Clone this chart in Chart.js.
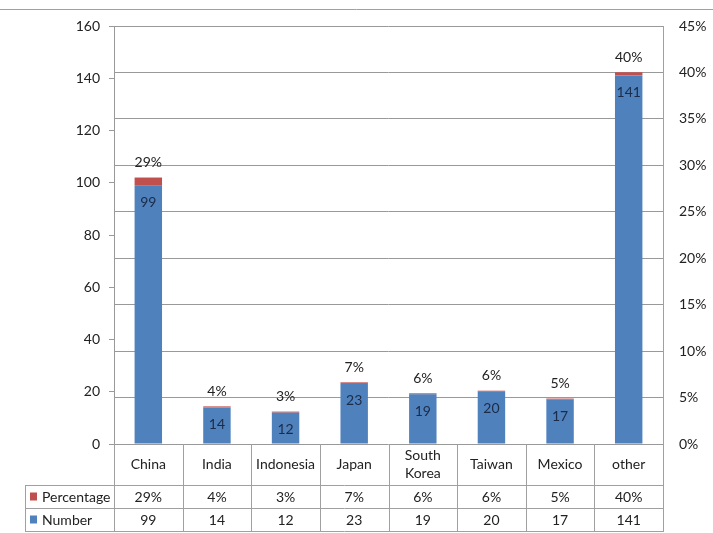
<!DOCTYPE html>
<html>
<head>
<meta charset="utf-8">
<script src="https://cdn.jsdelivr.net/npm/chart.js@4/dist/chart.umd.min.js"></script>
<style>
html,body{margin:0;padding:0;background:#fff;}
#wrap{width:713px;height:533px;position:relative;}
</style>
</head>
<body>
<div id="wrap"><canvas id="chart" width="713" height="533"></canvas></div>
<script>
let categories = ['China','India','Indonesia','Japan','South Korea','Taiwan','Mexico','other'];
let numbers = [99,14,12,23,19,20,17,141];
let percentages = [29,4,3,7,6,6,5,40];
// height of the red cap as it shows on each bar, in left axis units
let percentBar = [3,0.4,0.4,0.6,0.4,0.4,0.4,1.3];
let leftTicks = [0,20,40,60,80,100,120,140,160];
let rightTicks = [0,5,10,15,20,25,30,35,40,45];

let blue = '#4f81bd';
let red = '#c0504d';
let fontName = 'Lato, "Open Sans", sans-serif';
let fontSize = 14;
let lineColor = '#a0a0a0';

let valueLabels = {
	id:'valueLabels',
	afterDatasetsDraw:function(chart){
		let ctx = chart.ctx;
		let x = chart.scales.x;
		let y = chart.scales.y;
		ctx.save();
		ctx.font = fontSize + 'px ' + fontName;
		ctx.textAlign = 'center';
		ctx.textBaseline = 'middle';
		for(let i = 0; i < categories.length; i++){
			let cx = x.getPixelForValue(i);
			let topNum = y.getPixelForValue(numbers[i]);
			let topAll = y.getPixelForValue(numbers[i] + percentBar[i]);
			ctx.fillStyle = '#1b2b48';
			ctx.fillText(numbers[i], cx, topNum + 17);
			ctx.fillStyle = '#222';
			ctx.fillText(percentages[i] + '%', cx, topAll - 15);
		}
		ctx.restore();
	}
};

let dataTable = {
	id:'dataTable',
	afterDraw:function(chart){
		let ctx = chart.ctx;
		let area = chart.chartArea;
		let x = chart.scales.x;
		let n = categories.length;
		let cellW = (area.right - area.left) / n;
		let top = area.bottom;
		let row1 = top + 41;
		let row2 = row1 + 23;
		let row3 = row2 + 23;
		let tableLeft = 25;

		ctx.save();
		ctx.strokeStyle = lineColor;
		ctx.lineWidth = 1;
		ctx.beginPath();
		ctx.moveTo(0, 9.5);
		ctx.lineTo(713, 9.5);
		ctx.stroke();

		ctx.beginPath();
		for(let i = 0; i <= n; i++){
			let lx = Math.round(area.left + i * cellW) + 0.5;
			ctx.moveTo(lx, i === n ? area.top : top);
			ctx.lineTo(lx, row3);
		}
		ctx.moveTo(tableLeft + 0.5, row1);
		ctx.lineTo(tableLeft + 0.5, row3);
		[row1, row2, row3].forEach(function(ry){
			ctx.moveTo(tableLeft, ry + 0.5);
			ctx.lineTo(area.right + 1, ry + 0.5);
		});
		ctx.stroke();

		ctx.font = fontSize + 'px ' + fontName;
		ctx.textAlign = 'center';
		ctx.textBaseline = 'middle';
		ctx.fillStyle = '#222';
		for(let i = 0; i < n; i++){
			let cx = x.getPixelForValue(i);
			let label = categories[i];
			if(ctx.measureText(label).width > cellW - 8 && label.indexOf(' ') > 0){
				let parts = label.split(' ');
				ctx.fillText(parts[0], cx, (top + row1) / 2 - 9);
				ctx.fillText(parts.slice(1).join(' '), cx, (top + row1) / 2 + 9);
			} else {
				ctx.fillText(label, cx, (top + row1) / 2);
			}
			ctx.fillText(percentages[i] + '%', cx, (row1 + row2) / 2 + 1);
			ctx.fillText(numbers[i], cx, (row2 + row3) / 2 + 1);
		}

		let keys = [['Percentage', red, row1], ['Number', blue, row2]];
		ctx.textAlign = 'left';
		keys.forEach(function(k){
			let my = (k[2] + k[2] + 23) / 2;
			ctx.fillStyle = k[1];
			ctx.fillRect(30, my - 4, 7, 8);
			ctx.fillStyle = '#222';
			ctx.fillText(k[0], 42, my + 1);
		});
		ctx.restore();
	}
};

let ctx = document.getElementById('chart');

new Chart(ctx, {
	type:'bar',
	data:{
		labels:categories,
		datasets:[{
			label:'Number',
			data:numbers,
			backgroundColor:blue,
			borderWidth:0,
			categoryPercentage:1,
			barPercentage:0.4
		},{
			label:'Percentage',
			data:percentBar,
			backgroundColor:red,
			borderWidth:0,
			categoryPercentage:1,
			barPercentage:0.4
		}]
	},
	options:{
		responsive:false,
		animation:false,
		events:[],
		layout:{
			padding:{left:0, right:0, top:26, bottom:89}
		},
		plugins:{
			legend:{display:false},
			tooltip:{enabled:false}
		},
		scales:{
			x:{
				display:false,
				stacked:true
			},
			y:{
				position:'left',
				stacked:true,
				min:leftTicks[0],
				max:leftTicks[leftTicks.length - 1],
				ticks:{
					stepSize:leftTicks[1] - leftTicks[0],
					padding:9,
					color:'#222',
					font:{family:fontName, size:fontSize}
				},
				grid:{
					drawOnChartArea:false,
					drawTicks:true,
					tickLength:5,
					color:'#999'
				},
				border:{display:true, color:'#999'},
				afterFit:function(scale){ scale.width = 114; }
			},
			y1:{
				position:'right',
				min:rightTicks[0],
				max:rightTicks[rightTicks.length - 1],
				ticks:{
					stepSize:rightTicks[1] - rightTicks[0],
					padding:16,
					color:'#222',
					font:{family:fontName, size:fontSize},
					callback:function(v){ return v + '%'; }
				},
				grid:{
					drawOnChartArea:true,
					drawTicks:false,
					color:'#999'
				},
				border:{display:true, color:lineColor},
				afterFit:function(scale){ scale.width = 50; }
			}
		}
	},
	plugins:[valueLabels, dataTable]
});
</script>
</body>
</html>
